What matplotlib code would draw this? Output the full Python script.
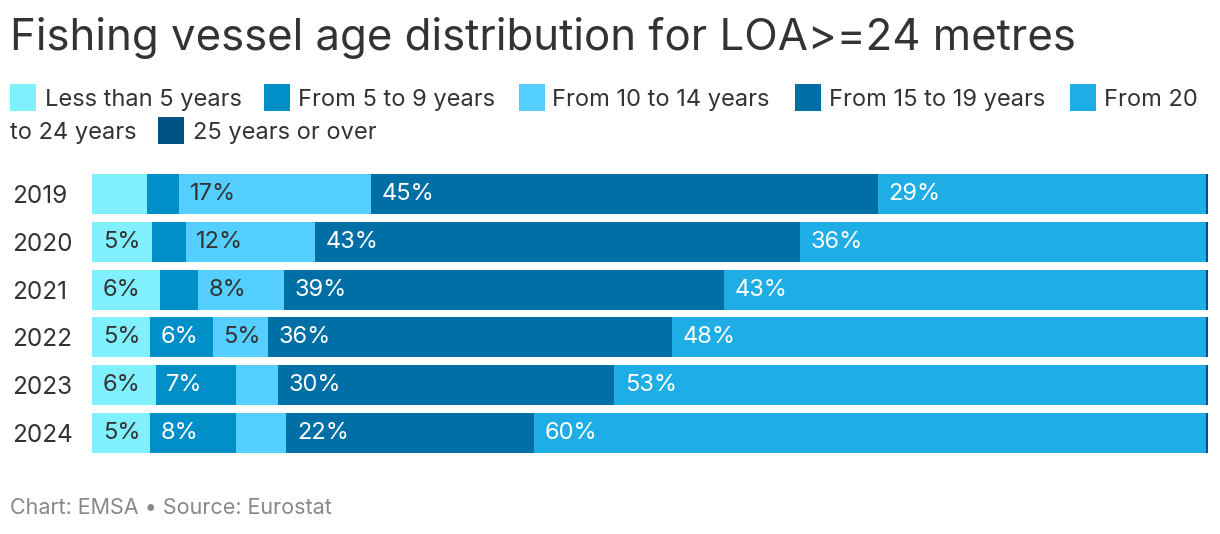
import matplotlib
matplotlib.use('Agg')
from matplotlib import pyplot as plt
from matplotlib.patches import Rectangle

plt.rcParams['font.family'] = ['Inter', 'DejaVu Sans']

years = ["2019", "2020", "2021", "2022", "2023", "2024"]
series = ["Less than 5 years", "From 5 to 9 years", "From 10 to 14 years",
          "From 15 to 19 years", "From 20 to 24 years", "25 years or over"]
less_5 = [4.9, 5.4, 6.1, 5.2, 5.7, 5.2]
from_5_9 = [2.9, 3.0, 3.4, 5.6, 7.2, 7.7]
from_10_14 = [17.2, 11.6, 7.7, 5.0, 3.8, 4.5]
from_15_19 = [45.4, 43.4, 39.4, 36.2, 30.1, 22.2]
from_20_24 = [29.4, 36.4, 43.2, 47.8, 53.0, 60.2]
over_25 = [0.2, 0.2, 0.2, 0.2, 0.2, 0.2]

values = [less_5, from_5_9, from_10_14, from_15_19, from_20_24, over_25]
colors = ["#80f0ff", "#008fc7", "#55cfff", "#006fa6", "#1fade5", "#005285"]
text_colors = ["#333333", "white", "#333333", "white", "white", "white"]

W, H = 1220, 534
fig = plt.figure(figsize=(W / 100, H / 100), dpi=100)
h = 40 / 48
ax = fig.add_axes([92 / W, 1 - 453 / H, 1116 / W, 279 / H])

left = [0.0] * len(years)
for vals, col, tcol in zip(values, colors, text_colors):
    ax.barh(range(len(years)), vals, left=left, height=h, color=col, linewidth=0)
    for i, v in enumerate(vals):
        if v >= 5:
            ax.text(left[i] + 0.95, i, f"{round(v):.0f}%", va='center', ha='left',
                    fontsize=17, color=tcol)
    left = [a + b for a, b in zip(left, vals)]

ax.set_xlim(0, max(left))
ax.set_ylim(len(years) - 1 + h / 2, -h / 2)
ax.set_yticks(range(len(years)))
ax.set_yticklabels(years, fontsize=17.5, color="#333333", ha='left')
ax.tick_params(axis='y', length=0, pad=80 * 0.72)
ax.set_xticks([])
for s in ax.spines.values():
    s.set_visible(False)

# title and footer
fig.text(10 / W, 1 - 38 / H, "Fishing vessel age distribution for LOA>=24 metres",
         fontsize=31.5, color="#333333", va='center', ha='left')
fig.text(10 / W, 1 - 508 / H, "Chart: EMSA \u2022 Source: Eurostat",
         fontsize=15.5, color="#888888", va='center', ha='left')

# legend, wrapped like the original
legend_items = [
    (10, 98, 45, "Less than 5 years", 0),
    (264, 98, 298, "From 5 to 9 years", 1),
    (519, 98, 552, "From 10 to 14 years", 2),
    (795, 98, 829, "From 15 to 19 years", 3),
    (1070, 98, 1104, "From 20", 4),
    (158, 131, 193, "25 years or over", 5),
]
for sx, cy, tx, label, k in legend_items:
    fig.patches.append(Rectangle((sx / W, 1 - (cy + 13) / H), 26 / W, 27 / H,
                                 transform=fig.transFigure, color=colors[k], linewidth=0))
    fig.text(tx / W, 1 - (cy + 1.5) / H, label, fontsize=17, color="#333333",
             va='center', ha='left')
fig.text(10 / W, 1 - 132.5 / H, "to 24 years", fontsize=17, color="#333333",
         va='center', ha='left')

fig.savefig("out.png", dpi=100)
